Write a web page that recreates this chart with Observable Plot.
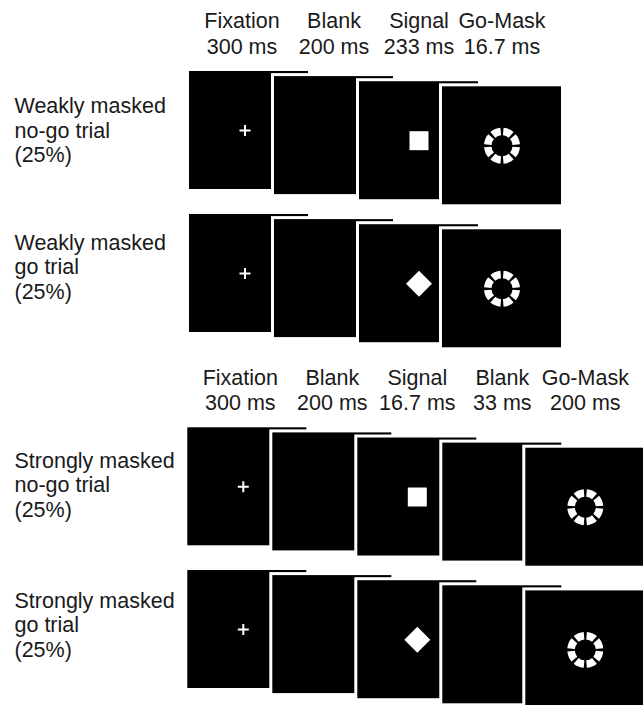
<!DOCTYPE html>
<html><head><meta charset="utf-8">
<script src="https://cdn.jsdelivr.net/npm/d3@7"></script>
<script src="https://cdn.jsdelivr.net/npm/@observablehq/plot@0.6"></script>
<style>
html,body{margin:0;padding:0;background:#fff;overflow:hidden;}
#chart svg{display:block;}
</style>
</head><body><div id="chart"></div>
<script>
// ---- data ----
const weakSteps = ["Fixation", "Blank", "Signal", "Go-Mask"];
const weakDurations = ["300 ms", "200 ms", "233 ms", "16.7 ms"];
const strongSteps = ["Fixation", "Blank", "Signal", "Blank", "Go-Mask"];
const strongDurations = ["300 ms", "200 ms", "16.7 ms", "33 ms", "200 ms"];
const trialLabels = [
  "Weakly masked\nno-go trial\n(25%)",
  "Weakly masked\ngo trial\n(25%)",
  "Strongly masked\nno-go trial\n(25%)",
  "Strongly masked\ngo trial\n(25%)"
];
const trialSection = ["weak", "weak", "strong", "strong"];
const trialSignal = ["square", "diamond", "square", "diamond"];

// ---- layout ----
const W = 643, H = 705;
const rowTop = [71, 214, 427.3, 570];
const labelNudge = [41.7, 35.3, 40, 37.3];
const sectionLeft = {weak: 189, strong: 187.3};
const headingNudge = {Fixation: -7};
const stepX = 85, stepY = 5.1, cardW = 119, cardH = 118, lastShift = 2, border = 3;
const fontSize = 21.5;
const textColor = "#1a1a1a";
const font = "'Liberation Sans', Arial, Helvetica, sans-serif";

const sections = {
  weak: {steps: weakSteps, durations: weakDurations, firstRow: 0},
  strong: {steps: strongSteps, durations: strongDurations, firstRow: 2}
};

function cardLeft(section, i) {
  const n = sections[section].steps.length;
  return sectionLeft[section] + stepX * i - (i === n - 1 ? lastShift : 0);
}

const cards = [];
trialLabels.forEach((label, t) => {
  const sec = trialSection[t];
  const steps = sections[sec].steps;
  steps.forEach((step, i) => {
    const left = cardLeft(sec, i);
    const top = rowTop[t] + stepY * i;
    let stim = null;
    if (step === "Fixation") stim = "plus";
    else if (step === "Signal") stim = trialSignal[t];
    else if (step === "Go-Mask") stim = "ring";
    cards.push({trial: t, step, i, left, top, cx: left + cardW / 2, cy: top + cardH / 2, stim});
  });
});

const headings = [];
Object.entries(sections).forEach(([sec, s]) => {
  s.steps.forEach((step, i) => {
    headings.push({
      text: step + "\n" + s.durations[i],
      x: cardLeft(sec, i) + cardW / 2 + (headingNudge[step] || 0),
      y: rowTop[s.firstRow] - 17.5
    });
  });
});

const labels = trialLabels.map((text, t) => ({text, x: 14, y: rowTop[t] + labelNudge[t]}));

// ---- custom symbols ----
const plusSym = {draw(ctx) { const r = 5.5; ctx.moveTo(-r, 0); ctx.lineTo(r, 0); ctx.moveTo(0, -r); ctx.lineTo(0, r); }};
const squareSym = {draw(ctx) { ctx.rect(-9.5, -9.5, 19, 19); }};
const diamondSym = {draw(ctx) { const r = 13; ctx.moveTo(0, -r); ctx.lineTo(r, 0); ctx.lineTo(0, r); ctx.lineTo(-r, 0); ctx.closePath(); }};
const ringSym = {draw(ctx) {
  const R = 18, r = 10.5, gap = 10 * Math.PI / 180;
  for (let k = 0; k < 8; ++k) {
    const a0 = k * Math.PI / 4 + gap / 2, a1 = (k + 1) * Math.PI / 4 - gap / 2;
    ctx.moveTo(R * Math.cos(a0), R * Math.sin(a0));
    ctx.arc(0, 0, R, a0, a1);
    ctx.lineTo(r * Math.cos(a1), r * Math.sin(a1));
    ctx.arc(0, 0, r, a1, a0, true);
    ctx.closePath();
  }
}};

const plusData = cards.filter(d => d.stim === "plus");
const fillStims = cards.filter(d => d.stim && d.stim !== "plus");
const symFor = {square: squareSym, diamond: diamondSym, ring: ringSym};

const chart = Plot.plot({
  width: W, height: H,
  margin: 0,
  x: {domain: [0, W], range: [0, W], axis: null},
  y: {domain: [0, H], range: [0, H], axis: null},
  style: {background: "#fff", fontFamily: font, overflow: "hidden"},
  marks: [
    // each card: black face with a white border drawn just outside it
    Plot.rect(cards, {
      x1: d => d.left - border / 2, x2: d => d.left + cardW + border / 2,
      y1: d => d.top - border / 2, y2: d => d.top + cardH + border / 2,
      fill: "black", stroke: "white", strokeWidth: border
    }),
    Plot.dot(plusData, {x: d => d.cx - 4, y: "cy", symbol: plusSym, r: 6, fill: "none", stroke: "white", strokeWidth: 2}),
    ...["square", "diamond", "ring"].map(s =>
      Plot.dot(fillStims.filter(d => d.stim === s), {x: "cx", y: "cy", symbol: symFor[s], r: 10, fill: "white", stroke: "none"})
    ),
    Plot.text(headings, {x: "x", y: "y", text: "text", lineAnchor: "bottom", lineHeight: 1.2, fontSize, fill: textColor, textAnchor: "middle", fontFamily: font}),
    Plot.text(labels, {x: "x", y: "y", text: "text", lineAnchor: "top", lineHeight: 1.14, fontSize, fill: textColor, textAnchor: "start", fontFamily: font, dy: -0.71 * 1.14 * fontSize})
  ]
});
document.getElementById("chart").appendChild(chart);
</script>
</body></html>
